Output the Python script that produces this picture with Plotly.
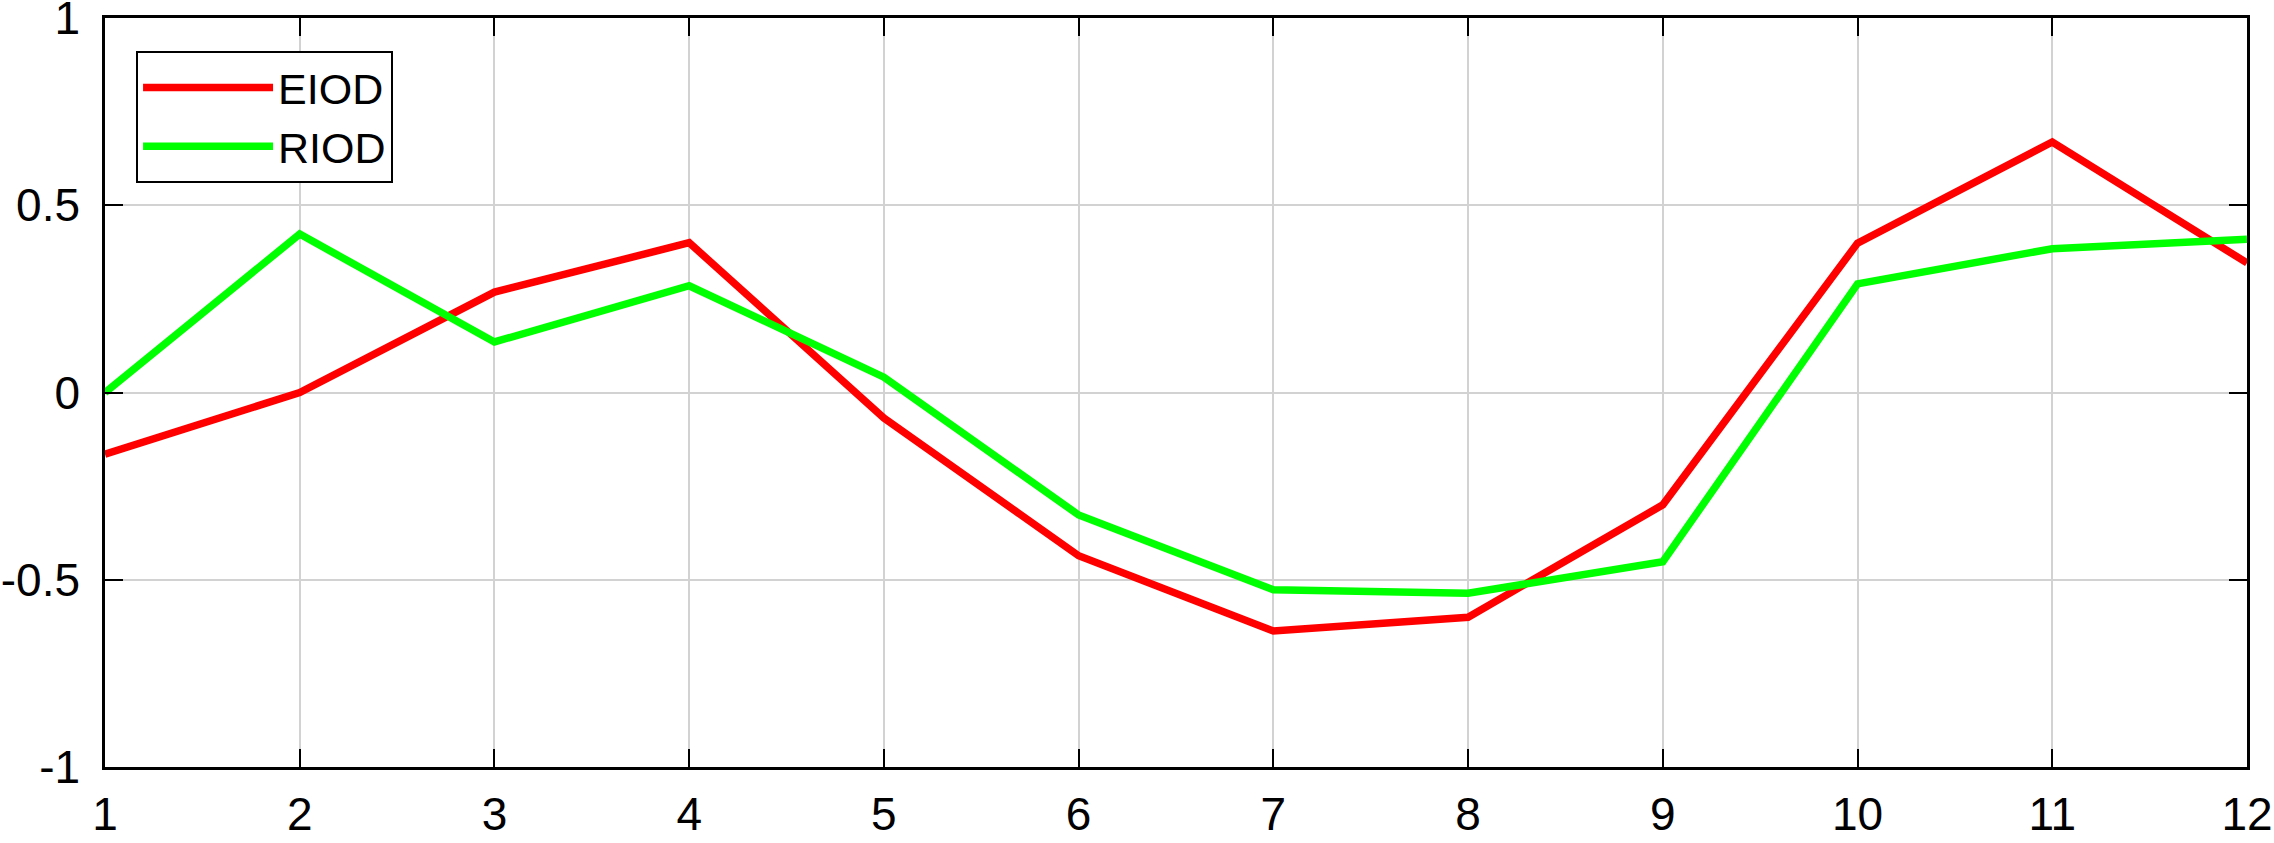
import plotly.graph_objects as go

# months on the x axis
months = [1, 2, 3, 4, 5, 6, 7, 8, 9, 10, 11, 12]

# series values
eiod = [-0.165, 0.0, 0.268, 0.40, -0.068, -0.436, -0.637, -0.600, -0.300, 0.399, 0.669, 0.346]
riod = [0.0, 0.423, 0.135, 0.285, 0.041, -0.327, -0.527, -0.536, -0.452, 0.290, 0.384, 0.409]

# tick labels (plain hyphen, as in the original)
y_ticks = [-1, -0.5, 0, 0.5, 1]
y_tick_text = ["-1", "-0.5", "0", "0.5", "1"]

FONT = "Arial, Liberation Sans, sans-serif"

fig = go.Figure()
fig.add_trace(go.Scatter(x=months, y=eiod, name="EIOD", mode="lines",
                         line=dict(color="#ff0000", width=7.5)))
fig.add_trace(go.Scatter(x=months, y=riod, name="RIOD", mode="lines",
                         line=dict(color="#00ff00", width=7.5)))

axis_common = dict(
    showline=True, linecolor="black", linewidth=2.5, mirror="ticks",
    ticks="inside", ticklen=18, tickwidth=2, tickcolor="black",
    showgrid=True, gridcolor="#d2d2d2", gridwidth=1.5,
    zeroline=False, automargin=False, ticklabeloverflow="allow",
    tickfont=dict(family=FONT, size=46, color="black"),
)

fig.update_xaxes(range=[1, 12], tickvals=months, ticklabelstandoff=5, **axis_common)
fig.update_yaxes(range=[-1, 1], tickvals=y_ticks, ticktext=y_tick_text,
                 ticklabelstandoff=13, **axis_common)

fig.update_layout(
    width=2274, height=843,
    margin=dict(l=105, r=27, t=18, b=76),
    paper_bgcolor="white", plot_bgcolor="white",
    font=dict(family=FONT, color="black"),
    showlegend=True,
    legend=dict(
        x=0.0145, y=0.956, xanchor="left", yanchor="top",
        bgcolor="white", bordercolor="black", borderwidth=2,
        font=dict(family=FONT, size=43, color="black"),
        itemwidth=130, tracegroupgap=0,
    ),
)

# the page body has an 8px default margin; drop it so the figure sits at 0,0
fig.write_html("out.html", config={"displayModeBar": False},
               post_script="document.body.style.margin='0';")
